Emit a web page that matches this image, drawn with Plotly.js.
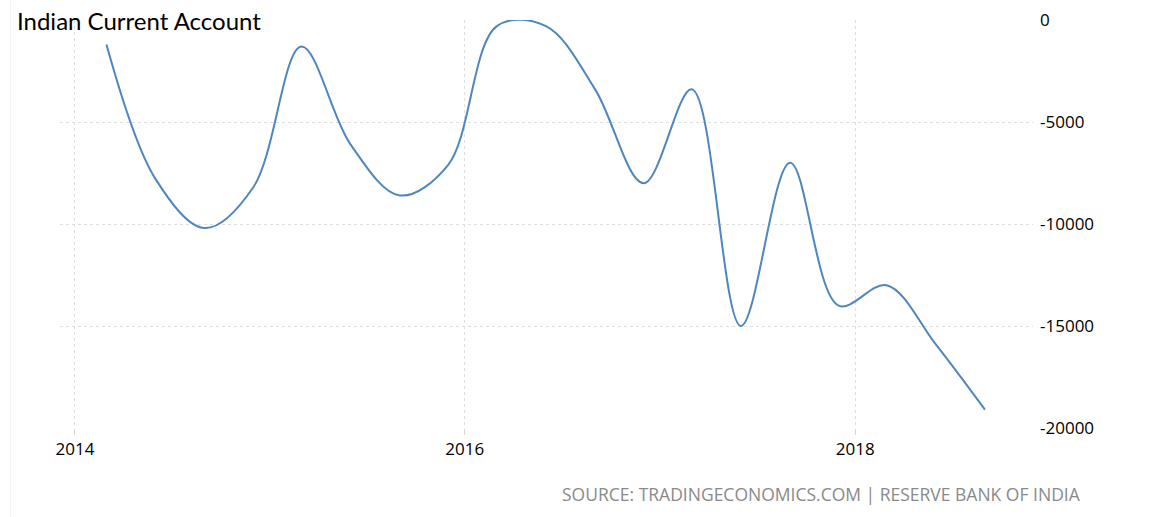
<!DOCTYPE html>
<html>
<head>
<meta charset="utf-8">
<script src="https://cdn.plot.ly/plotly-3.0.1.min.js"></script>
<style>html,body{margin:0;padding:0;background:#fff;}#chart{width:1158px;height:517px;}</style>
</head>
<body>
<div id="chart"></div>
<script>
const dates = ["2014-03-01","2014-06-01","2014-09-01","2014-12-01","2015-03-01","2015-06-01","2015-09-01","2015-12-01","2016-03-01","2016-06-01","2016-09-01","2016-12-01","2017-03-01","2017-06-01","2017-09-01","2017-12-01","2018-03-01","2018-06-01","2018-09-01"];
const currentAccount = [-1200,-7800,-10200,-8200,-1300,-6100,-8600,-7100,-300,-300,-3400,-8000,-3400,-15000,-7000,-14000,-13000,-15900,-19100];
const yTicks = [0,-5000,-10000,-15000,-20000];
const xTicks = ["2014-01-01","2016-01-01","2018-01-01"];
const xTickLabels = ["2014","2016","2018"];

const trace = {
  x: dates, y: currentAccount, type: 'scatter', mode: 'lines',
  line: {color: '#4f86bd', width: 2, shape: 'spline', smoothing: 1},
  hoverinfo: 'x+y'
};
const PW = 973, PH = 408;
const layout = {
  width: 1158, height: 517,
  margin: {l: 60, r: 125, t: 20, b: 89},
  paper_bgcolor: '#fff', plot_bgcolor: '#fff',
  showlegend: false,
  title: {text: 'Indian Current Account', x: 17/1158, xanchor: 'left', xref: 'container', y: 1 - 22/517, yanchor: 'middle', yref: 'container', font: {family: 'Lato, "Open Sans", sans-serif', size: 24, color: '#000'}},
  xaxis: {
    type: 'date', range: ['2013-12-04', '2018-11-30'],
    tickvals: xTicks, ticktext: xTickLabels,
    showgrid: true, gridcolor: '#dedede', griddash: 'dot', gridwidth: 1,
    ticks: 'outside', ticklen: 6, tickcolor: '#d6d6d6',
    zeroline: false, showline: false,
    tickfont: {family: '"Open Sans", sans-serif', size: 17, color: '#000'}
  },
  yaxis: {
    range: [-20000, 0], side: 'right',
    tickvals: yTicks, ticktext: yTicks.map(String),
    showgrid: true, gridcolor: '#dedede', griddash: 'dot', gridwidth: 1,
    zeroline: false, showline: false, ticks: '', ticklabelstandoff: 6,
    tickfont: {family: '"Open Sans", sans-serif', size: 17, color: '#000'}
  },
  shapes: [{type: 'line', xref: 'paper', yref: 'paper', x0: -49.5/PW, x1: -49.5/PW, y0: -89/PH, y1: 1 + 20/PH, line: {color: '#f2f2f2', width: 1}}],
  annotations: [{
    text: 'SOURCE: TRADINGECONOMICS.COM | RESERVE BANK OF INDIA',
    xref: 'paper', yref: 'paper', x: (1083 - 60) / PW, xanchor: 'right', y: -(494 - 428) / PH, yanchor: 'middle',
    showarrow: false,
    font: {family: '"Open Sans", sans-serif', size: 17.5, color: '#8a8a8a'}
  }]
};
Plotly.newPlot('chart', [trace], layout, {displayModeBar: false, staticPlot: true});
</script>
</body>
</html>
